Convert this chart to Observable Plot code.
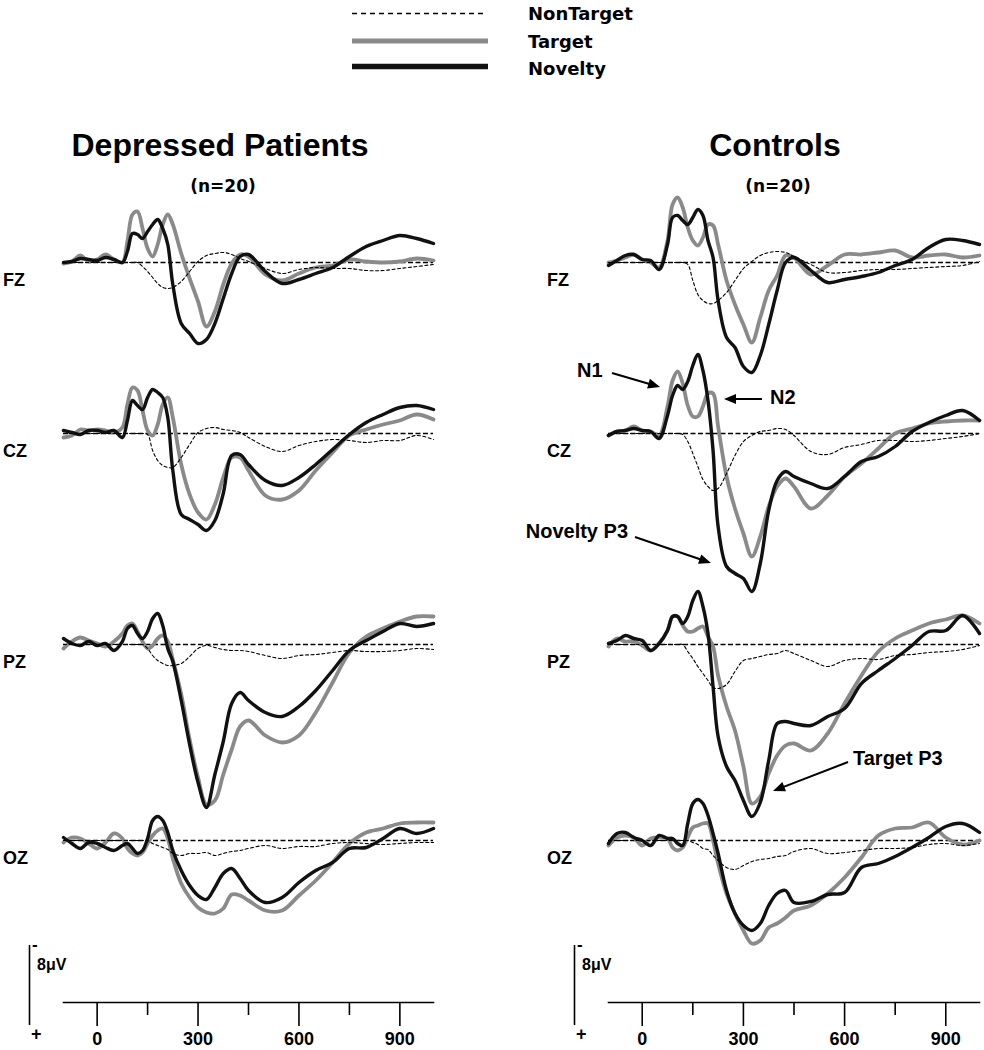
<!DOCTYPE html>
<html>
<head>
<meta charset="utf-8">
<script src="https://cdn.jsdelivr.net/npm/d3@7"></script>
<script src="https://cdn.jsdelivr.net/npm/@observablehq/plot@0.6"></script>
<style>
  body { margin: 0; background: #fff; }
  #chart { position: relative; width: 984px; height: 1050px; overflow: hidden; background: #fff; }
  #chart > svg { position: absolute; left: 0; }
</style>
</head>
<body>
<div id="chart"></div>
<script>
// ---------------- DATA ----------------
const times = [-100,-75,-50,-25,0,25,50,75,90,105,120,135,150,165,180,195,210,225,250,275,300,325,350,375,400,425,450,500,550,600,650,700,750,800,850,900,950,1000];

const groups = ["Depressed Patients", "Controls"];
const groupN = ["(n=20)", "(n=20)"];
const electrodes = ["FZ", "CZ", "PZ", "OZ"];
const conditions = ["NonTarget", "Target", "Novelty"];
const xTicks = [0, 300, 600, 900];
const xMinorTicks = [150, 450, 750];
const scaleBarValue = 8;
const scaleBarLabel = "8μV";
const annotationTexts = ["N1", "N2", "Novelty P3", "Target P3"];

// Depressed patients (μV, positive plotted downward)
const depFZ_NonTarget = [0,0,0,0,0,0,0,0, 0,0,0,0.4,0.9,1.5,2.1,2.5,2.6,2.5, 1.9,0.9,-0.1,-0.7,-0.9,-1.0,-0.8,-0.4,-0.1, 0.6,1.1,0.7,0.5,0.6,0.6,0.8,0.8,0.6,0.4,0.2];
const depFZ_Target    = [0.1,-0.1,-0.7,-0.1,-0.3,-0.8,-0.3,0.0, -2.1,-4.8,-5.1,-3.4,-1.4,-0.6,-1.8,-3.8,-4.8,-3.8, -0.9,1.6,3.9,6.4,4.9,2.2,0.1,-0.8,-0.6, 1.2,1.8,1.1,0.5,0.3,-0.3,-0.1,0.0,-0.1,-0.4,-0.2];
const depFZ_Novelty   = [0.0,-0.1,-0.4,-0.3,-0.2,-0.5,-0.3,0.0, -1.1,-2.9,-2.8,-2.4,-3.1,-3.8,-4.3,-3.4,-1.8,2.2, 6.1,7.1,8.1,7.7,6.1,3.6,1.1,-0.6,-0.8, 0.9,2.1,1.7,1.1,0.5,-0.6,-1.6,-2.2,-2.7,-2.4,-1.9];

const depCZ_NonTarget = [0,0,0,0,0,0,0,0, 0,0,0,0,0.1,1.7,2.7,3.2,3.4,3.4, 2.4,1.1,-0.1,-0.5,-0.6,-0.4,-0.3,-0.1,0.4, 1.3,1.8,1.2,0.8,0.6,0.7,0.9,0.7,0.7,0.2,0.6];
const depCZ_Target    = [0.4,0.2,-0.4,-0.3,-0.4,-0.3,-0.1,-0.6, -2.9,-4.6,-4.3,-2.3,-0.3,0.2,-0.9,-2.9,-3.6,-1.6, 3.1,6.1,7.9,8.6,7.1,4.4,2.4,2.4,3.7, 6.2,6.6,5.7,3.7,1.9,0.2,-0.4,-0.9,-1.3,-1.9,-1.4];
const depCZ_Novelty   = [-0.3,-0.1,0.1,-0.3,-0.3,-0.1,-0.3,0.4, -1.3,-3.3,-2.8,-2.4,-3.6,-4.4,-4.1,-3.6,-1.6,3.7, 8.1,8.6,9.1,9.7,8.7,6.0,2.2,2.1,3.1, 4.7,5.2,4.4,3.1,1.6,0.1,-1.1,-1.9,-2.6,-2.8,-2.4];

const depPZ_NonTarget = [0,0,0,0,0,0,0,0, 0,0,0,0,0.4,1.1,1.6,1.9,2.1,2.1, 1.9,1.2,0.4,0.1,0.3,0.5,0.6,0.6,0.7, 1.1,1.4,1.1,1.0,0.8,0.6,0.7,0.7,0.6,0.4,0.5];
const depPZ_Target    = [0.4,-0.3,-0.7,-0.4,-0.1,0.2,-0.3,-1.1, -1.9,-2.1,-1.3,-0.3,0.4,0.1,-0.6,-0.9,-0.3,1.5, 5.0,9.5,13.3,16.0,15.6,13.0,10.5,8.2,7.6, 9.1,9.8,9.1,6.8,3.8,0.8,-0.8,-1.6,-2.3,-2.8,-2.8];
const depPZ_Novelty   = [-0.6,-0.1,0.1,-0.3,0.1,-0.1,0.6,-0.3, -1.6,-1.9,-1.1,-0.6,-1.3,-2.6,-3.1,-1.9,0.4,1.7, 5.6,10.0,13.8,16.3,13.0,9.7,5.9,4.8,5.6, 6.8,7.2,6.2,4.6,2.6,0.6,-0.4,-1.3,-2.1,-1.8,-2.1];

const depOZ_NonTarget = [0,0,0,0,0,0,0,0, 0,0,0,0,0,0.3,0.5,0.7,0.9,1.3, 1.5,1.3,1.3,1.2,1.5,1.3,1.1,1.0,0.8, 0.5,0.8,0.6,0.6,0.3,0.2,0.3,0.4,0.3,0.2,0.2];
const depOZ_Target    = [0.2,-0.3,-0.2,0.3,0.8,0.2,-0.7,-0.2, 0.8,1.3,1.5,1.2,0.3,-0.5,-1.0,-1.2,-0.2,1.8, 4.3,5.7,6.7,7.2,7.3,6.8,5.4,5.5,6.0, 7.0,7.0,5.5,4.0,2.2,0.3,-0.8,-1.2,-1.7,-1.8,-1.8];
const depOZ_Novelty   = [-0.3,0.3,0.8,0.2,0.3,0.7,1.0,0.5, 0.3,0.8,1.3,1.0,-0.2,-2.0,-2.4,-2.0,-0.8,1.0, 3.0,4.5,5.5,5.9,4.7,3.3,2.8,3.8,5.0, 6.2,5.7,4.2,3.0,2.2,0.8,0.7,-0.2,-1.2,-0.7,-1.2];

// Controls
const ctlFZ_NonTarget = [0,0,0,0,0,0,0,0, 0,0,0,0.2,1.8,3.2,3.8,4.1,4.1,3.8, 3.0,1.8,0.6,-0.1,-0.7,-1.0,-1.1,-1.0,-0.6, 0.2,1.0,1.0,0.8,0.7,0.7,0.6,0.5,0.4,0.3,-0.1];
const ctlFZ_Target    = [0.0,-0.2,-0.5,-0.8,-0.3,0.0,0.5,-2.2, -5.8,-6.5,-5.5,-3.5,-2.2,-1.7,-2.5,-3.8,-3.7,-1.8, 1.8,4.2,6.2,8.0,5.5,2.8,1.3,-0.7,-0.5, 1.2,0.3,-0.8,-0.8,-1.0,-1.2,-0.5,-0.7,-0.8,-0.5,-0.7];
const ctlFZ_Novelty   = [0.3,-0.2,-0.7,-0.8,-0.3,-0.2,0.7,-1.8, -4.5,-4.7,-4.2,-3.8,-4.5,-5.3,-4.7,-2.2,-0.5,3.8, 7.5,8.5,10.4,11.0,9.3,6.2,2.8,0.0,-0.5, 0.8,2.0,1.7,1.4,1.0,0.3,-0.3,-1.5,-2.3,-2.2,-1.8];

const ctlCZ_NonTarget = [0,0,0,0,0,0,0,0, 0,0,0.1,0.8,2.0,3.3,4.6,5.3,5.7,5.5, 4.0,2.2,0.8,0.2,-0.2,-0.3,-0.5,-0.4,0.2, 1.8,2.1,1.4,1.1,0.7,0.7,0.8,0.7,0.5,0.3,0.0];
const ctlCZ_Target    = [0.2,-0.2,-0.3,-0.7,-0.3,-0.2,0.2,-2.7, -5.3,-6.2,-5.0,-2.8,-1.7,-1.7,-2.7,-4.0,-4.0,-0.7, 4.3,7.5,10.0,12.3,10.3,7.3,5.3,4.5,5.3, 7.5,6.2,4.3,3.0,1.5,0.0,-0.5,-1.0,-1.2,-1.3,-1.3];
const ctlCZ_Novelty   = [0.2,-0.2,-0.3,-0.5,-0.3,-0.2,0.5,-1.8, -3.8,-4.8,-4.4,-5.2,-6.8,-7.9,-6.3,-3.3,1.7,9.3, 13.3,14.0,14.5,15.8,13.0,7.7,4.7,3.8,4.3, 5.0,5.5,4.3,2.8,2.3,1.3,-0.2,-1.1,-1.8,-2.3,-1.3];

const ctlPZ_NonTarget = [0,0,0,0,0,0,0,0, 0,0,0,0.7,1.4,2.2,2.9,3.6,4.3,4.4, 4.0,2.7,1.6,1.4,1.2,1.0,0.9,0.6,0.9, 1.6,2.2,1.6,1.4,1.5,1.1,1.0,0.8,0.7,0.5,0.1];
const ctlPZ_Target    = [0.2,-0.6,-0.3,-0.3,0.1,0.6,-0.1,-1.4, -2.8,-2.8,-1.9,-1.3,-1.3,-1.6,-1.8,-0.8,0.2,3.1, 6.2,8.6,12.2,15.9,15.2,12.9,11.1,10.1,9.9, 10.6,8.9,5.9,3.1,0.7,-0.6,-1.4,-2.1,-2.5,-2.9,-2.1];
const ctlPZ_Novelty   = [-0.1,-0.4,-0.9,-0.6,-0.4,0.6,-0.1,-1.4, -2.8,-2.8,-2.1,-2.8,-4.4,-5.3,-3.8,-1.1,4.2,9.2, 12.2,13.6,15.6,17.2,15.8,11.6,7.9,7.7,7.9, 8.1,7.2,6.4,3.9,2.6,1.4,0.1,-1.3,-1.4,-2.9,-1.1];

const ctlOZ_NonTarget = [0,0,0,0,0,0,0,0, 0,0,0,0,0.2,0.4,0.8,0.9,1.5,2.0, 2.7,2.9,2.5,2.1,1.9,1.8,1.6,1.5,1.1, 0.8,1.3,1.2,1.0,0.8,0.8,0.7,0.4,0.3,0.5,0.3];
const ctlOZ_Target    = [0.5,-0.3,-0.5,-0.3,0.5,-0.2,-0.3,-0.2, 0.7,1.0,0.7,-0.3,-1.3,-1.5,-1.7,-1.7,0.0,2.3, 5.3,7.3,9.0,10.3,10.0,8.7,8.3,7.7,7.0, 6.5,5.3,3.7,1.7,-0.5,-1.2,-1.3,-1.8,-0.3,0.4,0.0];
const ctlOZ_Novelty   = [0.3,-0.7,-0.8,-0.3,0.0,0.5,-0.5,-0.2, -0.2,0.3,0.5,-1.7,-3.7,-4.1,-3.7,-2.5,-0.7,1.3, 5.0,7.3,8.5,9.0,8.3,6.5,5.3,5.0,6.2, 6.1,5.4,5.2,2.7,2.3,1.6,0.7,-0.3,-1.4,-1.7,-0.8];

const series = {
  "Depressed Patients": {
    FZ: {NonTarget: depFZ_NonTarget, Target: depFZ_Target, Novelty: depFZ_Novelty},
    CZ: {NonTarget: depCZ_NonTarget, Target: depCZ_Target, Novelty: depCZ_Novelty},
    PZ: {NonTarget: depPZ_NonTarget, Target: depPZ_Target, Novelty: depPZ_Novelty},
    OZ: {NonTarget: depOZ_NonTarget, Target: depOZ_Target, Novelty: depOZ_Novelty}
  },
  "Controls": {
    FZ: {NonTarget: ctlFZ_NonTarget, Target: ctlFZ_Target, Novelty: ctlFZ_Novelty},
    CZ: {NonTarget: ctlCZ_NonTarget, Target: ctlCZ_Target, Novelty: ctlCZ_Novelty},
    PZ: {NonTarget: ctlPZ_NonTarget, Target: ctlPZ_Target, Novelty: ctlPZ_Novelty},
    OZ: {NonTarget: ctlOZ_NonTarget, Target: ctlOZ_Target, Novelty: ctlOZ_Novelty}
  }
};

// ---------------- LAYOUT / STYLE ----------------
const W = 984;
const K = 10;                        // px per μV
const rowBaseline = {FZ: 261.5, CZ: 433, PZ: 644, OZ: 840};
const colRange = [[63, 433], [608, 979]];
const colOffset = [0, 545];
const PANEL_ABOVE = 120, PANEL_H = 320;
const lineStyle = {
  NonTarget: {stroke: "#000", strokeWidth: 1.1, strokeDasharray: "3,2.5"},
  Target: {stroke: "#8a8a8a", strokeWidth: 3.8},
  Novelty: {stroke: "#111", strokeWidth: 3.4}
};
const drawOrder = ["Target", "Novelty", "NonTarget"];
const ARIAL = "'Liberation Sans', Arial, Helvetica, sans-serif";
const DEJAVU = "'DejaVu Sans', 'Liberation Sans', sans-serif";

const chart = document.getElementById("chart");
const rows = arr => times.map((t, i) => ({t, v: arr[i]}));

// ---------------- PANELS ----------------
groups.forEach((g, gi) => {
  const [x0, x1] = colRange[gi];
  electrodes.forEach(el => {
    const s = series[g][el];
    const svg = Plot.plot({
      width: W, height: PANEL_H,
      marginLeft: x0, marginRight: W - x1, marginTop: 0, marginBottom: 0,
      x: {domain: [-100, 1000], axis: null},
      y: {domain: [-PANEL_ABOVE / K, (PANEL_H - PANEL_ABOVE) / K], range: [0, PANEL_H], axis: null},
      style: {background: "transparent", overflow: "visible"},
      marks: [
        Plot.ruleY([0], {stroke: "#000", strokeWidth: 1.3, strokeDasharray: "5,2.5"}),
        ...drawOrder.map(c => Plot.line(rows(s[c]), {
          x: "t", y: "v", curve: "catmull-rom",
          strokeLinejoin: "round", strokeLinecap: "round", ...lineStyle[c]
        }))
      ]
    });
    svg.style.top = (rowBaseline[el] - PANEL_ABOVE) + "px";
    chart.append(svg);
  });

  // x axis + scale bar
  const AX_TOP = 930, AX_H = 120, AXIS_Y = 1002, BAR_BOTTOM = 1025;
  const ax = Plot.plot({
    width: W, height: AX_H,
    marginLeft: x0, marginRight: W - x1, marginTop: 0, marginBottom: AX_TOP + AX_H - AXIS_Y,
    x: {domain: [-100, 1000]},
    y: {domain: [-scaleBarValue, 0], range: [BAR_BOTTOM - AX_TOP - scaleBarValue * K, BAR_BOTTOM - AX_TOP], axis: null},
    style: {background: "transparent", overflow: "visible", fontFamily: ARIAL, fontWeight: "bold", fontSize: "18px", color: "#000"},
    marks: [
      Plot.frame({anchor: "bottom", stroke: "#000", strokeWidth: 1.6}),
      Plot.axisX(xTicks, {tickSize: 24, tickPadding: 6, strokeWidth: 1.6, fontSize: 18, fontWeight: "bold", tickFormat: d => String(d), label: null}),
      Plot.axisX(xMinorTicks, {tickSize: 13, strokeWidth: 1.6, tickFormat: () => "", label: null}),
      Plot.ruleX([-100], {y1: -scaleBarValue, y2: 0, dx: -34, stroke: "#000", strokeWidth: 1.6})
    ]
  });
  ax.style.top = AX_TOP + "px";
  chart.append(ax);
});

// ---------------- TEXT OVERLAY ----------------
const ov = d3.select(chart).append("svg")
  .attr("width", W).attr("height", 1050)
  .style("position", "absolute").style("top", "0px").style("left", "0px")
  .style("pointer-events", "none");

function txt(x, y, s, opts = {}) {
  ov.append("text").attr("x", x).attr("y", y).text(s)
    .attr("font-family", opts.family || ARIAL)
    .attr("font-weight", "bold")
    .attr("font-size", opts.size || 18)
    .attr("text-anchor", opts.anchor || "start")
    .attr("fill", "#000");
}

// legend
const legendY = {NonTarget: 13.5, Target: 41, Novelty: 66.5};
const legendTextY = {NonTarget: 20, Target: 48, Novelty: 74.5};
conditions.forEach(c => {
  const st = lineStyle[c];
  ov.append("line").attr("x1", 352).attr("x2", c === "NonTarget" ? 483 : 488)
    .attr("y1", legendY[c]).attr("y2", legendY[c])
    .attr("stroke", st.stroke)
    .attr("stroke-width", c === "NonTarget" ? 1.3 : (c === "Target" ? 5 : 5.5))
    .attr("stroke-dasharray", c === "NonTarget" ? "5,4" : null);
  txt(528, legendTextY[c], c, {family: DEJAVU, size: 18});
});

// titles
const titleX = [220, 775];
groups.forEach((g, gi) => {
  txt(titleX[gi], 156, g, {size: 32, anchor: "middle"});
  txt(titleX[gi] + 3, 192, groupN[gi], {family: DEJAVU, size: 17, anchor: "middle"});
  electrodes.forEach(el => {
    txt(gi === 0 ? 3 : 547, rowBaseline[el] + 24, el, {size: 18});
  });
  const bx = 29 + colOffset[gi];
  txt(bx + 3, 950, "-", {size: 17});
  txt(bx + 8, 970, scaleBarLabel, {size: 16});
  txt(bx + 2, 1040, "+", {size: 18});
});

// annotations
function arrow(x1, y1, x2, y2) {
  const a = Math.atan2(y2 - y1, x2 - x1), L = 12, H = 5;
  const bx = x2 - L * Math.cos(a), by = y2 - L * Math.sin(a);
  ov.append("line").attr("x1", x1).attr("y1", y1).attr("x2", bx + 2 * Math.cos(a)).attr("y2", by + 2 * Math.sin(a))
    .attr("stroke", "#000").attr("stroke-width", 2);
  ov.append("path").attr("d", `M${x2},${y2}L${bx + H * Math.sin(a)},${by - H * Math.cos(a)}L${bx - H * Math.sin(a)},${by + H * Math.cos(a)}Z`)
    .attr("fill", "#000");
}
txt(577, 377, annotationTexts[0], {size: 20});
arrow(612, 373, 660, 387);
txt(770, 404, annotationTexts[1], {size: 20});
arrow(762, 399, 724, 399);
txt(628, 538, annotationTexts[2], {size: 20, anchor: "end"});
arrow(635, 537, 711, 563);
txt(853, 765, annotationTexts[3], {size: 20});
arrow(848, 762, 773, 791);
</script>
</body>
</html>
